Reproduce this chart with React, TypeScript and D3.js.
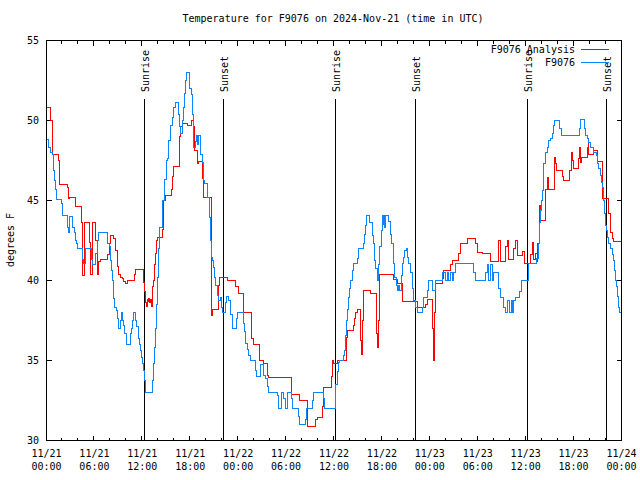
import React from "react";
import * as d3 from "d3";

// hours since 2024-11-21 00:00 UTC, temperature °F
const analysisSeries: [number, number][] = [
  [0, 50.8], [0.5, 50.0], [0.79, 47.9], [1.54, 47.5], [1.67, 46.0], [2.59, 45.8], [2.75, 45.1], [2.92, 45.2],
  [3.63, 44.6], [4.35, 43.6], [4.55, 40.3], [4.76, 43.6], [5.38, 42.4], [5.51, 40.4], [5.72, 43.6], [6.14, 42.5],
  [6.35, 40.4], [6.55, 41.2], [6.76, 41.3], [7.6, 41.6], [7.9, 42.3], [8.0, 42.8], [8.43, 42.6], [8.6, 41.9],
  [8.85, 40.9], [9.05, 40.4], [9.27, 40.2], [9.48, 40.1], [9.7, 39.96], [9.9, 39.8], [10.1, 40.0], [10.97, 40.4],
  [11.14, 40.67], [12.19, 39.9], [12.31, 39.3], [12.4, 38.65], [12.52, 38.4], [12.61, 38.8], [12.74, 38.7],
  [12.81, 38.85], [12.94, 38.6], [13.02, 38.8], [13.15, 38.4], [13.24, 38.9], [13.31, 39.6], [13.44, 40.0],
  [13.56, 41.0], [13.65, 41.7], [13.73, 42.5], [13.86, 42.7], [14.49, 43.2], [14.61, 44.06], [14.69, 45.0],
  [14.9, 45.3], [15.61, 45.7], [15.74, 46.5], [15.87, 47.0], [15.94, 47.1], [16.69, 49.0], [16.78, 49.6],
  [16.99, 49.8], [17.69, 49.7], [18.12, 50.0], [18.45, 49.6], [18.53, 48.1], [18.87, 47.3], [19.07, 47.45],
  [19.5, 46.35], [19.62, 46.25], [19.7, 45.2], [20.62, 37.8], [20.75, 38.2], [21.58, 39.7], [21.66, 40.2],
  [22.63, 40.0], [23.67, 39.6], [24.08, 39.2], [24.63, 38.0], [25.63, 36.35], [25.88, 36.0], [26.67, 35.0],
  [27.14, 34.8], [27.64, 34.06], [27.84, 33.96], [30.64, 32.9], [31.68, 32.5], [32.72, 30.87], [33.69, 31.3],
  [33.9, 31.45], [34.52, 32.1], [34.72, 33.3], [35.65, 34.0], [35.78, 35.0], [35.9, 34.8], [36.4, 35.0],
  [37.57, 36.45], [37.73, 36.9], [38.48, 37.2], [38.61, 37.6], [38.7, 38.0], [38.91, 38.2], [39.32, 36.25],
  [39.41, 35.4], [39.53, 37.5], [39.66, 39.4], [40.57, 39.2], [41.32, 36.7], [41.41, 35.8], [41.54, 37.5],
  [41.7, 40.35], [43.49, 40.04], [43.92, 39.8], [44.54, 38.7], [46.42, 38.3], [47.46, 38.5], [47.67, 38.8],
  [48.3, 37.0], [48.5, 35.0], [48.62, 38.0], [48.71, 39.8], [49.55, 40.1], [49.75, 40.6], [50.59, 41.0],
  [50.8, 41.25], [51.63, 41.7], [51.84, 42.33], [52.68, 42.6], [53.72, 42.33], [53.93, 41.77], [54.56, 41.7],
  [55.6, 41.2], [56.64, 42.5], [56.85, 41.2], [57.48, 42.1], [57.77, 42.5], [57.9, 41.3], [58.52, 42.0],
  [58.73, 42.5], [58.94, 41.56], [59.57, 41.8], [59.86, 41.04], [60.61, 41.6], [60.82, 42.4], [60.95, 41.3],
  [61.24, 41.7], [61.45, 41.2], [61.52, 42.3], [61.77, 44.7], [61.86, 43.75], [62.49, 45.7], [62.7, 46.46],
  [62.9, 45.7], [63.61, 47.7], [63.74, 47.3], [63.86, 46.9], [64.58, 46.5], [64.78, 46.25], [65.53, 46.9],
  [65.71, 48.0], [65.84, 47.5], [65.96, 47.0], [66.58, 47.6], [66.78, 48.3], [66.87, 47.4], [66.99, 47.7],
  [67.71, 48.3], [67.83, 48.9], [67.91, 47.9], [68.53, 48.1], [68.96, 47.45], [69.58, 45.1], [70.41, 44.2],
  [70.62, 43.0], [70.84, 42.6], [70.96, 42.44], [71.9, 42.44],
];

const observedSeries: [number, number][] = [
  [0, 48.8], [0.29, 48.3], [0.5, 48.0], [0.71, 47.9], [0.84, 47.5], [0.91, 46.9], [1.0, 46.25], [1.13, 45.7],
  [1.25, 45.04], [1.84, 44.8], [1.97, 44.06], [2.59, 43.3], [2.79, 43.0], [2.92, 44.0], [3.29, 43.3], [3.51, 43.0],
  [3.63, 42.5], [3.76, 42.3], [3.92, 42.0], [4.47, 41.3], [4.67, 41.04], [4.88, 42.0], [5.6, 41.3], [5.72, 41.0],
  [6.14, 41.7], [6.35, 42.5], [6.55, 43.0], [7.6, 42.3], [7.9, 42.1], [8.01, 41.25], [8.14, 40.6], [8.22, 40.0],
  [8.35, 39.4], [8.43, 38.85], [8.56, 38.3], [8.72, 38.1], [8.85, 37.6], [8.97, 37.3], [9.06, 37.0], [9.27, 37.5],
  [9.39, 38.0], [9.56, 37.5], [9.68, 37.2], [9.81, 36.7], [9.98, 36.0], [10.52, 36.7], [10.64, 37.0],
  [10.81, 37.5], [10.93, 38.0], [11.14, 37.5], [11.27, 37.1], [11.48, 36.8], [11.56, 36.4], [11.68, 36.0],
  [11.77, 35.6], [11.9, 35.2], [11.98, 34.8], [12.1, 34.4], [12.31, 33.75], [12.4, 33.0], [13.31, 33.75],
  [13.44, 34.8], [13.56, 35.8], [13.65, 37.0], [13.75, 38.5], [13.86, 40.2], [13.98, 42.0], [14.2, 43.3],
  [14.5, 45.0], [14.75, 46.3], [15.03, 47.5], [15.16, 47.6], [15.31, 48.75], [15.53, 49.7], [15.74, 50.2],
  [15.94, 50.83], [16.15, 51.1], [16.57, 50.4], [16.69, 49.6], [16.78, 49.2], [16.99, 50.0], [17.19, 50.8],
  [17.32, 51.7], [17.4, 52.5], [17.5, 53.0], [17.94, 52.0], [18.11, 51.6], [18.24, 50.4], [18.36, 49.0],
  [18.45, 48.3], [18.66, 48.7], [18.78, 49.06], [18.87, 48.5], [19.07, 49.06], [19.28, 47.9], [19.5, 47.4],
  [19.7, 46.25], [19.79, 46.04], [20.2, 45.2], [20.41, 43.96], [20.54, 42.5], [20.66, 41.46], [20.75, 41.25],
  [20.87, 40.83], [21.04, 40.2], [21.16, 39.7], [21.38, 39.06], [21.58, 38.75], [21.79, 38.96], [21.91, 38.3],
  [22.0, 38.0], [22.42, 38.65], [22.54, 39.0], [22.83, 38.75], [23.04, 37.9], [23.25, 37.0], [23.79, 37.6],
  [23.96, 38.0], [24.64, 37.3], [24.79, 36.8], [24.92, 36.04], [25.13, 35.7], [25.34, 35.3], [25.55, 35.0],
  [26.18, 34.4], [26.3, 34.0], [26.8, 34.75], [27.21, 34.06], [27.42, 33.85], [27.64, 33.4], [27.76, 33.0],
  [28.89, 32.8], [29.09, 32.0], [29.39, 33.0], [29.72, 32.6], [29.93, 32.0], [30.14, 33.0], [30.68, 32.6],
  [30.81, 32.0], [31.52, 31.5], [31.64, 31.0], [32.43, 31.3], [32.56, 32.0], [33.31, 32.5], [33.47, 33.0],
  [34.72, 32.6], [34.81, 32.0], [36.25, 33.5], [36.4, 34.3], [36.53, 34.9], [36.69, 35.0], [37.23, 35.3],
  [37.35, 35.6], [37.44, 36.56], [37.57, 37.5], [37.65, 38.2], [37.78, 38.96], [37.94, 39.48], [38.07, 40.0],
  [38.28, 40.6], [38.48, 41.04], [38.91, 41.35], [39.11, 41.98], [39.66, 42.3], [39.78, 42.9], [39.95, 43.44],
  [40.07, 44.06], [40.48, 43.6], [40.78, 42.8], [40.91, 42.3], [41.07, 41.25], [41.2, 40.73], [41.41, 40.0],
  [41.61, 41.0], [41.74, 42.1], [41.91, 43.1], [42.04, 44.06], [42.16, 43.5], [42.24, 44.06], [42.32, 43.3],
  [42.45, 44.06], [42.86, 43.7], [43.08, 42.9], [43.2, 42.3], [43.41, 41.04], [43.58, 40.2], [43.83, 39.7],
  [43.91, 39.4], [44.04, 39.7], [44.2, 39.4], [44.39, 40.3], [44.54, 41.04], [44.71, 41.46], [44.87, 41.9],
  [45.04, 42.0], [45.2, 41.46], [45.37, 41.04], [45.58, 40.5], [45.87, 39.5], [45.99, 38.75], [46.21, 38.3],
  [46.42, 38.0], [47.05, 38.3], [47.25, 38.96], [47.67, 39.4], [47.87, 40.0], [48.3, 39.4], [48.71, 40.0],
  [49.55, 40.5], [49.96, 40.0], [50.18, 40.5], [50.38, 40.0], [50.59, 40.5], [50.8, 40.0], [51.0, 40.5],
  [51.22, 41.04], [53.51, 40.5], [53.72, 40.0], [54.97, 40.5], [55.18, 41.0], [55.38, 40.0], [55.6, 41.0],
  [55.81, 40.0], [56.01, 40.5], [56.64, 39.5], [56.85, 38.96], [57.26, 38.3], [57.48, 38.0], [57.77, 38.75],
  [58.02, 38.0], [58.19, 38.75], [58.32, 38.0], [58.52, 38.75], [58.73, 38.96], [59.27, 39.3], [59.44, 40.0],
  [60.32, 40.6], [60.39, 41.04], [61.36, 41.35], [61.65, 42.3], [61.77, 43.6], [61.86, 44.4], [61.95, 45.0],
  [62.07, 45.6], [62.2, 46.25], [62.27, 47.3], [62.49, 48.0], [62.7, 48.33], [62.9, 48.75], [63.11, 48.9],
  [63.32, 49.2], [63.53, 49.7], [63.65, 50.0], [64.28, 49.5], [64.45, 49.06], [66.78, 49.5], [66.87, 50.04],
  [67.37, 49.5], [67.5, 49.06], [67.71, 48.9], [67.91, 48.65], [68.12, 48.33], [68.53, 48.0], [68.87, 47.8],
  [69.03, 47.3], [69.16, 46.98], [69.37, 46.56], [69.46, 46.15], [69.58, 45.8], [69.71, 45.0], [69.87, 44.2],
  [70.0, 43.44], [70.12, 43.1], [70.21, 42.7], [70.41, 42.3], [70.62, 42.0], [70.84, 41.6], [71.04, 41.25],
  [71.13, 40.6], [71.25, 40.0], [71.38, 39.6], [71.46, 39.0], [71.66, 38.3], [71.79, 38.0], [71.9, 38.0],
];

const sunEventHours = [12.31, 22.2, 36.23, 46.27, 60.27, 70.16];
const sunEventLabels = ["Sunrise", "Sunset", "Sunrise", "Sunset", "Sunrise", "Sunset"];

const xTickHours = [0, 6, 12, 18, 24, 30, 36, 42, 48, 54, 60, 66, 72];
const xTickDates = ["11/21", "11/21", "11/21", "11/21", "11/22", "11/22", "11/22", "11/22", "11/23", "11/23", "11/23", "11/23", "11/24"];
const xTickTimes = ["00:00", "06:00", "12:00", "18:00", "00:00", "06:00", "12:00", "18:00", "00:00", "06:00", "12:00", "18:00", "00:00"];
const yTicks = [30, 35, 40, 45, 50, 55];

const seriesNames = ["F9076 Analysis", "F9076"];
const seriesColors = ["#ff0000", "#0a84ff"];

const W = 640, H = 480;
const L = 46.5, R = 621.5, T = 40.5, B = 440.5;
const FONT = "'DejaVu Sans Mono', 'Liberation Mono', monospace";

export default function App() {
  const x = d3.scaleLinear().domain([0, 72]).range([L, R]);
  const y = d3.scaleLinear().domain([30, 55]).range([B, T]);
  const line = d3
    .line<[number, number]>()
    .x((d) => x(d[0]))
    .y((d) => y(d[1]))
    .curve(d3.curveStepAfter);

  const minorHours = d3.range(0, 73, 2);

  return (
    <svg
      width={W}
      height={H}
      style={{ position: "absolute", left: 0, top: 0, background: "#fff" }}
      fontFamily={FONT}
      fontSize={10}
    >
      <rect x={0} y={0} width={W} height={H} fill="#fff" />
      <text x={333} y={22} textAnchor="middle" fill="#000">
        Temperature for F9076 on 2024-Nov-21 (time in UTC)
      </text>

      {/* x ticks top and bottom */}
      {minorHours.map((h) => {
        const len = h % 6 === 0 ? 5 : 3;
        const xx = Math.round(x(h)) + 0.5 - 1;
        return (
          <g key={"xt" + h} stroke="#000" strokeWidth={1} shapeRendering="crispEdges">
            <line x1={xx} x2={xx} y1={B} y2={B - len} />
            <line x1={xx} x2={xx} y1={T} y2={T + len} />
          </g>
        );
      })}
      {/* y ticks left and right */}
      {yTicks.map((v) => (
        <g key={"yt" + v} stroke="#000" strokeWidth={1} shapeRendering="crispEdges">
          <line x1={L} x2={L + 5} y1={y(v)} y2={y(v)} />
          <line x1={R} x2={R - 5} y1={y(v)} y2={y(v)} />
        </g>
      ))}

      {/* y tick labels */}
      {yTicks.map((v) => (
        <text key={"yl" + v} x={39} y={y(v)} dy="0.35em" textAnchor="end" fill="#000">
          {v}
        </text>
      ))}
      {/* x tick labels */}
      {xTickHours.map((h, i) => (
        <g key={"xl" + h}>
          <text x={x(h)} y={456.5} textAnchor="middle" fill="#000">
            {xTickDates[i]}
          </text>
          <text x={x(h)} y={469.5} textAnchor="middle" fill="#000">
            {xTickTimes[i]}
          </text>
        </g>
      ))}

      <text transform={`translate(10,240) rotate(-90)`} textAnchor="middle" dy="0.35em" fill="#000">
        degrees F
      </text>

      {/* sunrise / sunset markers */}
      {sunEventHours.map((h, i) => {
        const xx = Math.round(x(h)) - 0.5;
        return (
          <g key={"sun" + i}>
            <line x1={xx} x2={xx} y1={99} y2={B} stroke="#000" strokeWidth={1} shapeRendering="crispEdges" />
            <text transform={`translate(${xx + 1},92) rotate(-90)`} dy="0.35em" textAnchor="start" fill="#000">
              {sunEventLabels[i]}
            </text>
          </g>
        );
      })}

      {/* data */}
      <path d={line(analysisSeries) || ""} fill="none" stroke={seriesColors[0]} strokeWidth={1} shapeRendering="crispEdges" />
      <path d={line(observedSeries) || ""} fill="none" stroke={seriesColors[1]} strokeWidth={1} shapeRendering="crispEdges" />

      {/* legend */}
      {seriesNames.map((n, i) => {
        const yy = 49.5 + i * 13;
        return (
          <g key={"lg" + i}>
            <text x={575} y={yy} dy="0.35em" textAnchor="end" fill="#000">
              {n}
            </text>
            <line x1={581} x2={609} y1={yy} y2={yy} stroke={seriesColors[i]} strokeWidth={1} shapeRendering="crispEdges" />
          </g>
        );
      })}

      {/* frame */}
      <rect x={L} y={T} width={R - L} height={B - T} fill="none" stroke="#000" strokeWidth={1} shapeRendering="crispEdges" />
    </svg>
  );
}
